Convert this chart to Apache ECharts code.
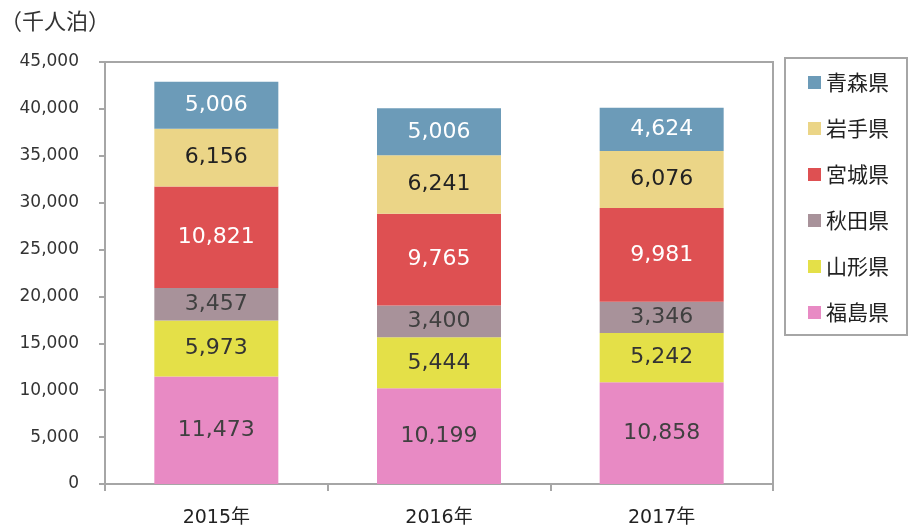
<!DOCTYPE html>
<html><head><meta charset="utf-8">
<script src="https://cdn.jsdelivr.net/npm/echarts@6/dist/echarts.min.js"></script>
<style>html,body{margin:0;padding:0;background:#fff}#c{width:909px;height:528px}</style>
</head><body><div id="c"></div>
<script>
var categories = ['2015年', '2016年', '2017年'];
var fukushima = [11473, 10199, 10858];
var yamagata = [5973, 5444, 5242];
var akita = [3457, 3400, 3346];
var miyagi = [10821, 9765, 9981];
var iwate = [6156, 6241, 6076];
var aomori = [5006, 5006, 4624];
var yTicks = [0, 5000, 10000, 15000, 20000, 25000, 30000, 35000, 40000, 45000];

var FONT = '"DejaVu Sans", Verdana, "Noto Sans CJK JP", sans-serif';
function fmt(v) { return String(v).replace(/\B(?=(\d{3})+(?!\d))/g, ','); }

var seriesDefs = [
  { name: '福島県', data: fukushima, color: '#E88AC4', label: '#404040' },
  { name: '山形県', data: yamagata, color: '#E4E048', label: '#333333' },
  { name: '秋田県', data: akita, color: '#A8929A', label: '#404040' },
  { name: '宮城県', data: miyagi, color: '#DE5052', label: '#ffffff' },
  { name: '岩手県', data: iwate, color: '#EBD587', label: '#222222' },
  { name: '青森県', data: aomori, color: '#6C9BB8', label: '#ffffff' }
];

var chart = echarts.init(document.getElementById('c'), null, { renderer: 'canvas' });
chart.setOption({
  animation: false,
  textStyle: { fontFamily: FONT },
  title: {
    text: '（千人泊）', left: 0, top: 10, padding: 0,
    textStyle: { fontFamily: '"Noto Sans CJK JP", sans-serif', fontSize: 22, fontWeight: 'normal', color: '#333' }
  },
  grid: { left: 105, right: 136, top: 62, bottom: 43, show: true, borderColor: '#A6A6A6', borderWidth: 2, backgroundColor: 'transparent' },
  legend: {
    orient: 'vertical', left: 785, top: 58,
    data: ['青森県', '岩手県', '宮城県', '秋田県', '山形県', '福島県'],
    icon: 'rect', itemWidth: 13, itemHeight: 13, itemGap: 25,
    padding: [14, 18, 12, 23],
    borderColor: '#A6A6A6', borderWidth: 2,
    textStyle: { fontFamily: '"Noto Sans CJK JP", sans-serif', fontSize: 21, color: '#222' }
  },
  xAxis: {
    type: 'category', data: categories,
    axisLine: { lineStyle: { color: '#A6A6A6', width: 2 } },
    axisTick: { show: true, length: 7, lineStyle: { color: '#A6A6A6', width: 2 } },
    axisLabel: { fontSize: 19, color: '#222', margin: 25, fontFamily: FONT }
  },
  yAxis: {
    type: 'value', min: yTicks[0], max: yTicks[yTicks.length - 1], interval: yTicks[1] - yTicks[0],
    axisLine: { show: true, lineStyle: { color: '#A6A6A6', width: 2 } },
    axisTick: { show: true, length: 6, lineStyle: { color: '#A6A6A6', width: 2 } },
    splitLine: { show: false },
    axisLabel: { fontSize: 17, color: '#333', margin: 26, formatter: function (v) { return fmt(v); } }
  },
  series: seriesDefs.map(function (s) {
    return {
      name: s.name, type: 'bar', stack: 'total', data: s.data, barWidth: 124,
      itemStyle: { color: s.color },
      label: { show: true, position: 'inside', fontSize: 22, color: s.label, fontFamily: FONT, formatter: function (p) { return fmt(p.value); } }
    };
  })
});
</script></body></html>
